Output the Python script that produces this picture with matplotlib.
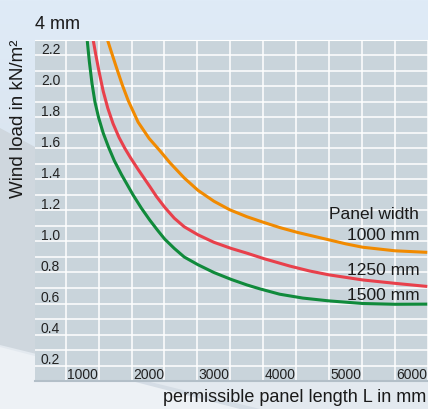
import numpy as np
import matplotlib.pyplot as plt
from matplotlib.colors import LinearSegmentedColormap
from matplotlib.transforms import offset_copy, blended_transform_factory

plt.rcParams['font.family'] = ['Liberation Sans', 'DejaVu Sans']

# Data (panel length in mm, wind load in kN/m2)
x_1000 = [1636, 1700, 1773, 1860, 1949, 2100, 2267, 2432, 2583, 2800, 3009, 3250, 3489,
          3750, 3994, 4250, 4524, 4994, 5250, 5509, 6000, 6489]
y_1000 = [2.30, 2.215, 2.12, 2.01, 1.91, 1.77, 1.665, 1.585, 1.508, 1.41, 1.33, 1.26, 1.205,
          1.16, 1.125, 1.09, 1.058, 1.011, 0.985, 0.963, 0.94, 0.93]

x_1250 = [1418, 1460, 1510, 1570, 1640, 1720, 1812, 1900, 1985, 2100, 2277, 2379, 2505,
          2650, 2800, 3009, 3250, 3515, 3750, 4020, 4398, 4700, 4994, 5509, 6000, 6489]
y_1250 = [2.30, 2.20, 2.09, 1.97, 1.86, 1.76, 1.67, 1.60, 1.54, 1.465, 1.355, 1.29, 1.22,
          1.15, 1.095, 1.043, 0.995, 0.955, 0.925, 0.888, 0.842, 0.81, 0.785, 0.752, 0.73, 0.71]

x_1500 = [1327, 1360, 1400, 1445, 1500, 1570, 1650, 1740, 1850, 2024, 2150, 2277, 2400, 2505,
          2650, 2800, 3009, 3250, 3515, 3750, 3944, 4248, 4600, 4994, 5509, 6000, 6489]
y_1500 = [2.30, 2.16, 2.02, 1.90, 1.80, 1.70, 1.61, 1.52, 1.43, 1.30, 1.215, 1.138, 1.07, 1.015,
          0.955, 0.90, 0.85, 0.80, 0.755, 0.72, 0.695, 0.66, 0.635, 0.617, 0.600, 0.595, 0.596]

x_ticks = [1000, 2000, 3000, 4000, 5000, 6000]
y_ticks = [0.2, 0.4, 0.6, 0.8, 1.0, 1.2, 1.4, 1.6, 1.8, 2.0, 2.2]
widths = ['1000 mm', '1250 mm', '1500 mm']
label_y = [1.011, 0.785, 0.624]

fig = plt.figure(figsize=(4.28, 4.09), dpi=100)

# background (pixel coordinates)
bg = fig.add_axes([0, 0, 1, 1], zorder=-10)
bg.set_xlim(0, 428)
bg.set_ylim(409, 0)
bg.axis('off')
grad = np.linspace(0, 1, 256).reshape(-1, 1)
bg.imshow(grad, extent=[0, 428, 409, 0], aspect='auto',
          cmap=LinearSegmentedColormap.from_list('bgc', ['#dfebf7', '#dae4ee', '#d5dde5']))
bg.fill([0, 35, 35, 0], [128, 147, 409, 409], color='#cfd7de', lw=0)
bg.fill([0, 260, 428, 428, 0], [345, 409, 409, 382, 382], color='#e3e9ef', lw=0)
bg.fill([0, 240, 0], [347, 409, 409], color='#edf1f5', lw=0)

ax = fig.add_axes([35 / 428, 1 - 381 / 409, 393 / 428, 341 / 409])
ax.set_facecolor('#c9d4db')
ax.set_xlim(535, 6490)
ax.set_ylim(0.1, 2.3)

ax.set_xticks(np.arange(1000, 6501, 500))
ax.set_yticks(np.arange(0.2, 2.25, 0.1))
ax.grid(True, color='white', lw=1.1)
ax.set_axisbelow(True)
ax.tick_params(length=0, labelbottom=False, labelleft=False)
for s in ['left', 'right']:
    ax.spines[s].set_visible(False)
ax.spines['top'].set_color('white')
ax.spines['bottom'].set_color('#b3bfc8')
ax.spines['bottom'].set_linewidth(1.5)

kw = dict(lw=2.2, solid_capstyle='butt', solid_joinstyle='round')
ax.plot(x_1000, y_1000, color='#f18a00', **kw)
ax.plot(x_1250, y_1250, color='#e8404b', **kw)
ax.plot(x_1500, y_1500, color='#108a3b', **kw)

# tick labels inside the plot
tr_y = offset_copy(blended_transform_factory(ax.transAxes, ax.transData), fig=fig,
                   x=0, y=1.5, units='dots')
for v in y_ticks:
    ax.text(0.015, v, f'{v:.1f}', transform=tr_y, ha='left', va='baseline',
            fontsize=10, color='#222222')
tr_x = offset_copy(ax.transData, fig=fig, x=1.5, y=0, units='dots')
for v in x_ticks:
    ax.text(v, 0.114, str(v), transform=tr_x, ha='left', va='baseline',
            fontsize=10, color='#222222')

# panel width labels
ax.text(6368, 1.144, 'Panel width', ha='right', va='baseline', fontsize=12.5, color='#1a1a1a')
for w, yy in zip(widths, label_y):
    ax.text(6368, yy, w, ha='right', va='baseline', fontsize=12.5, color='#1a1a1a')

fig.text(35 / 428, 1 - 29.3 / 409, '4 mm', ha='left', va='baseline', fontsize=13, color='#1a1a1a')
fig.text(19 / 428, 1 - 40 / 409, 'Wind load in kN/m²', rotation=90, ha='center', va='top',
         fontsize=13.5, color='#1a1a1a')
fig.text(426 / 428, 1 - 402 / 409, 'permissible panel length L in mm', ha='right', va='baseline',
         fontsize=13, color='#1a1a1a')

fig.savefig('out.png', dpi=100)
